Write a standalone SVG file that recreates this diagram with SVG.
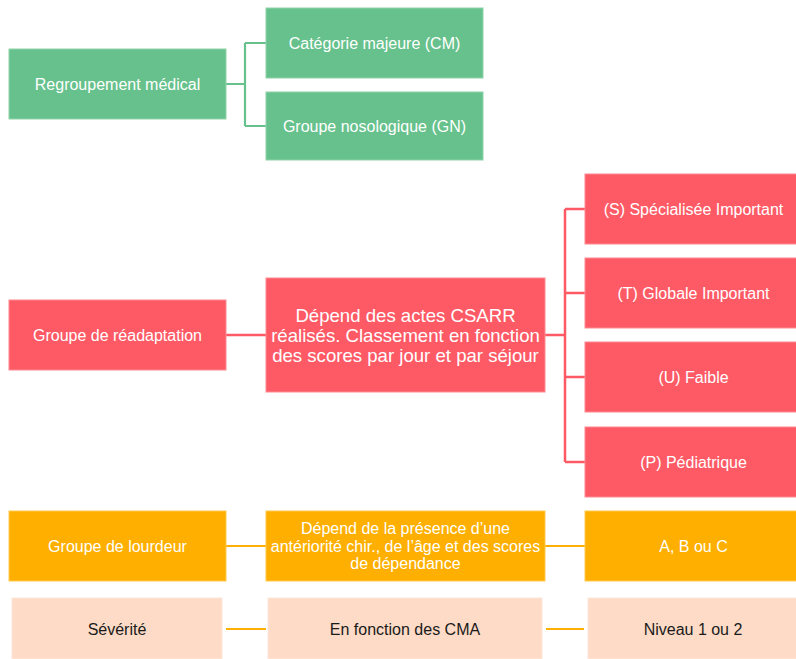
<svg xmlns="http://www.w3.org/2000/svg" width="796" height="659" viewBox="0 0 796 659">
  <style>
    text { font-family: "Liberation Sans", Arial, sans-serif; font-size: 16px; text-anchor: middle; }
    .lbl { fill: #ffffff; }
    .dark { fill: #1a1a1a; }
    .big { font-size: 18.6px; }
    .green { fill: #66c18c; stroke: #8fd3aa; stroke-width: 1; }
    .red { fill: #fe5a66; stroke: #ff8a92; stroke-width: 1; }
    .orange { fill: #feaf00; stroke: #ffc94d; stroke-width: 1; }
    .peach { fill: #fddbc6; stroke: #fee8da; stroke-width: 1; }
    .c-green { stroke: #66c18c; stroke-width: 2.2; fill: none; }
    .c-red { stroke: #fe5a66; stroke-width: 2.5; fill: none; }
    .c-orange { stroke: #feaf00; stroke-width: 2.2; fill: none; }
  </style>

  <!-- connectors -->
  <g id="connectors">
    <path class="c-green" d="M225 84 H245 M245 43 V126 M245 43 H266 M245 126 H266"/>
    <path class="c-red" d="M225 335 H266 M545 335 H565 M565 209 V462 M565 209 H585 M565 293 H585 M565 377 H585 M565 462 H585"/>
    <path class="c-orange" d="M225 546 H266 M545 546 H585"/>
    <path class="c-orange" d="M226 629 H266 M546 629 H584"/>
  </g>

  <!-- medical grouping -->
  <g id="regroupement-medical">
    <rect class="green" x="9" y="49" width="217" height="70"/>
    <text class="lbl" x="117.5" y="89.6">Regroupement médical</text>
  </g>
  <g id="categorie-majeure">
    <rect class="green" x="266" y="8" width="217" height="70"/>
    <text class="lbl" x="374.5" y="48.6">Catégorie majeure (CM)</text>
  </g>
  <g id="groupe-nosologique">
    <rect class="green" x="266" y="92" width="217" height="68"/>
    <text class="lbl" x="374.5" y="131.6">Groupe nosologique (GN)</text>
  </g>

  <!-- rehabilitation grouping -->
  <g id="groupe-readaptation">
    <rect class="red" x="9" y="300" width="217" height="70"/>
    <text class="lbl" x="117.5" y="340.6">Groupe de réadaptation</text>
  </g>
  <g id="actes-csarr">
    <rect class="red" x="266" y="278" width="279" height="114"/>
    <text class="lbl big" x="405.5" y="321.5">Dépend des actes CSARR</text>
    <text class="lbl big" x="405.5" y="341.5">réalisés. Classement en fonction</text>
    <text class="lbl big" x="405.5" y="361.5">des scores par jour et par séjour</text>
  </g>
  <g id="specialisee">
    <rect class="red" x="585" y="174" width="217" height="70"/>
    <text class="lbl" x="693.5" y="214.6">(S) Spécialisée Important</text>
  </g>
  <g id="globale">
    <rect class="red" x="585" y="258" width="217" height="70"/>
    <text class="lbl" x="693.5" y="298.6">(T) Globale Important</text>
  </g>
  <g id="faible">
    <rect class="red" x="585" y="342" width="217" height="70"/>
    <text class="lbl" x="693.5" y="382.6">(U) Faible</text>
  </g>
  <g id="pediatrique">
    <rect class="red" x="585" y="427" width="217" height="70"/>
    <text class="lbl" x="693.5" y="467.6">(P) Pédiatrique</text>
  </g>

  <!-- heaviness grouping -->
  <g id="groupe-lourdeur">
    <rect class="orange" x="9" y="511" width="217" height="70"/>
    <text class="lbl" x="117.5" y="551.6">Groupe de lourdeur</text>
  </g>
  <g id="anteriorite">
    <rect class="orange" x="266" y="511" width="279" height="70"/>
    <text class="lbl" x="405.5" y="534">Dépend de la présence d’une</text>
    <text class="lbl" x="405.5" y="551.5">antériorité chir., de l’âge et des scores</text>
    <text class="lbl" x="405.5" y="568.5">de dépendance</text>
  </g>
  <g id="abc">
    <rect class="orange" x="585" y="511" width="217" height="70"/>
    <text class="lbl" x="693.5" y="551.6">A, B ou C</text>
  </g>

  <!-- severity -->
  <g id="severite">
    <rect class="peach" x="12" y="598" width="210" height="61"/>
    <text class="dark" x="117" y="634.6">Sévérité</text>
  </g>
  <g id="fonction-cma">
    <rect class="peach" x="268" y="598" width="274" height="61"/>
    <text class="dark" x="405" y="634.6">En fonction des CMA</text>
  </g>
  <g id="niveau">
    <rect class="peach" x="588" y="598" width="210" height="61"/>
    <text class="dark" x="693" y="634.6">Niveau 1 ou 2</text>
  </g>
</svg>
